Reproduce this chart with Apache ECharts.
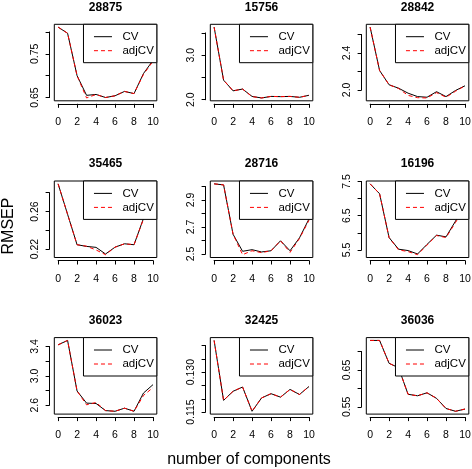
<!DOCTYPE html>
<html>
<head>
<meta charset="utf-8">
<script src="https://cdn.jsdelivr.net/npm/echarts@6/dist/echarts.min.js"></script>
<style>
  html, body { margin: 0; padding: 0; background: #fff; }
  #chart { width: 472px; height: 469px; }
</style>
</head>
<body>
<div id="chart"></div>
<script>
// ---- data ----
const components = [0, 1, 2, 3, 4, 5, 6, 7, 8, 9, 10];
const panelTitles = ['28875', '15756', '28842', '35465', '28716', '16196', '36023', '32425', '36036'];

const cv28875  = [0.811, 0.797, 0.700, 0.655, 0.657, 0.650, 0.654, 0.664, 0.659, 0.705, 0.735];
const adj28875 = [0.811, 0.797, 0.700, 0.649, 0.657, 0.650, 0.654, 0.664, 0.659, 0.703, 0.733];
const cv15756  = [3.63, 2.44, 2.20, 2.24, 2.075, 2.04, 2.075, 2.07, 2.075, 2.055, 2.10];
const adj15756 = [3.63, 2.44, 2.20, 2.24, 2.070, 2.04, 2.075, 2.07, 2.075, 2.055, 2.10];
const cv28842  = [2.68, 2.21, 2.055, 2.018, 1.964, 1.927, 1.920, 1.980, 1.927, 1.993, 2.044];
const adj28842 = [2.68, 2.21, 2.055, 2.015, 1.940, 1.915, 1.912, 1.970, 1.920, 1.985, 2.044];
const cv35465  = [0.2895, 0.257, 0.2246, 0.2228, 0.2218, 0.2147, 0.2220, 0.2256, 0.2246, 0.2526, 0.272];
const adj35465 = [0.2895, 0.257, 0.2246, 0.2230, 0.2190, 0.2140, 0.2220, 0.2256, 0.2246, 0.2520, 0.270];
const cv28716  = [3.02, 3.012, 2.646, 2.520, 2.532, 2.515, 2.524, 2.598, 2.524, 2.620, 2.760];
const adj28716 = [3.02, 3.012, 2.646, 2.495, 2.524, 2.510, 2.524, 2.598, 2.512, 2.615, 2.750];
const cv16196  = [7.43, 7.14, 5.86, 5.52, 5.48, 5.38, 5.66, 5.93, 5.88, 6.34, 6.80];
const adj16196 = [7.43, 7.14, 5.86, 5.50, 5.45, 5.36, 5.64, 5.92, 5.86, 6.30, 6.75];
const cv36023  = [3.423, 3.483, 2.793, 2.628, 2.623, 2.526, 2.517, 2.559, 2.517, 2.766, 2.880];
const adj36023 = [3.423, 3.483, 2.793, 2.605, 2.637, 2.526, 2.517, 2.559, 2.517, 2.733, 2.840];
const cv32425  = [0.1419, 0.1194, 0.1228, 0.1244, 0.1153, 0.1203, 0.1219, 0.1206, 0.1235, 0.1216, 0.1246];
const adj32425 = [0.1419, 0.1194, 0.1228, 0.1244, 0.1153, 0.1203, 0.1219, 0.1206, 0.1235, 0.1216, 0.1246];
const cv36036  = [0.730, 0.730, 0.668, 0.656, 0.584, 0.580, 0.588, 0.573, 0.5455, 0.538, 0.544];
const adj36036 = [0.730, 0.730, 0.668, 0.656, 0.584, 0.580, 0.588, 0.573, 0.5455, 0.538, 0.544];

const cvSeries  = [cv28875, cv15756, cv28842, cv35465, cv28716, cv16196, cv36023, cv32425, cv36036];
const adjSeries = [adj28875, adj15756, adj28842, adj35465, adj28716, adj16196, adj36023, adj32425, adj36036];

const yTickMin   = [0.65, 2.0, 2.0, 0.22, 2.5, 5.5, 2.6, 0.115, 0.55];
const yTickMax   = [0.80, 3.5, 2.6, 0.28, 3.0, 7.5, 3.4, 0.140, 0.70];
const yTickStep  = [0.05, 0.5, 0.2, 0.02, 0.1, 0.5, 0.2, 0.005, 0.05];
const yLabelEvery = [2, 2, 2, 2, 2, 2, 2, 3, 2];
const yDecimals  = [2, 1, 1, 2, 1, 1, 1, 3, 2];

// ---- layout ----
const FONT = '"Liberation Sans", Arial, Helvetica, sans-serif';
const colLeft = [54.3, 210.3, 366.3];
const rowTop = [24.3, 181.0, 337.6];
const BW = 102.5, BH = 76.5;

const grids = [], xAxes = [], yAxes = [], series = [], legends = [], titles = [];

for (let p = 0; p < 9; p++) {
  const r = Math.floor(p / 3), c = p % 3;
  const left = colLeft[c], top = rowTop[r];
  const all = cvSeries[p].concat(adjSeries[p]);
  const dmin = Math.min.apply(null, all), dmax = Math.max.apply(null, all);
  const pad = 0.04 * (dmax - dmin);
  const ylo = dmin - pad, yhi = dmax + pad;

  const gi = grids.length;
  grids.push({ left: left, top: top, width: BW, height: BH, show: true,
    borderColor: '#000', borderWidth: 1, backgroundColor: 'transparent', outerBoundsMode: 'none', containLabel: false });
  xAxes.push({ gridIndex: gi, type: 'value', min: -0.4, max: 10.4, show: false });
  yAxes.push({ gridIndex: gi, type: 'value', min: ylo, max: yhi, show: false });
  const ai = xAxes.length - 1;

  series.push({ name: 'CV', type: 'line', xAxisIndex: ai, yAxisIndex: ai,
    data: components.map((x, i) => [x, cvSeries[p][i]]), symbol: 'none', showSymbol: false,
    lineStyle: { color: '#000', width: 1, type: 'solid' }, itemStyle: { color: '#000' }, z: 2 });
  series.push({ name: 'adjCV', type: 'line', xAxisIndex: ai, yAxisIndex: ai,
    data: components.map((x, i) => [x, adjSeries[p][i]]), symbol: 'none', showSymbol: false,
    lineStyle: { color: '#ff0000', width: 1, type: [4, 3] }, itemStyle: { color: '#ff0000' }, z: 3 });

  const pxPerX = BW / 10.8;
  const aLeft = left + 0.4 * pxPerX;
  const aWidth = 10 * pxPerX;
  const pxPerY = BH / (yhi - ylo);
  const aTop = top + (yhi - yTickMax[p]) * pxPerY;
  const aHeight = (yTickMax[p] - yTickMin[p]) * pxPerY;
  const aBottomGap = (top + BH) - (aTop + aHeight);
  const gj = grids.length;
  grids.push({ left: aLeft, top: aTop, width: aWidth, height: aHeight, show: false, outerBoundsMode: 'none', containLabel: false });
  const tmin = yTickMin[p], step = yTickStep[p], every = yLabelEvery[p], dec = yDecimals[p];
  xAxes.push({ gridIndex: gj, type: 'value', min: 0, max: 10, interval: 2, position: 'bottom',
    offset: aBottomGap + 3,
    axisLine: { show: true, onZero: false, lineStyle: { color: '#000', width: 1 } },
    axisTick: { show: true, length: 4, lineStyle: { color: '#000', width: 1 } },
    axisLabel: { show: true, margin: 13, fontSize: 10.5, color: '#000', fontFamily: FONT,
      showMinLabel: true, showMaxLabel: true },
    splitLine: { show: false } });
  yAxes.push({ gridIndex: gj, type: 'value', min: yTickMin[p], max: yTickMax[p], interval: step, position: 'left',
    offset: (aLeft - left) + 4.7,
    axisLine: { show: true, onZero: false, lineStyle: { color: '#000', width: 1 } },
    axisTick: { show: true, length: 4, lineStyle: { color: '#000', width: 1 } },
    axisLabel: { show: true, rotate: 90, margin: 8.5, fontSize: 10.5, color: '#000', fontFamily: FONT,
      showMinLabel: true, showMaxLabel: true,
      formatter: function (v) {
        const k = Math.round((v - tmin) / step);
        return (k % every === 0) ? Number(v).toFixed(dec) : '';
      } },
    splitLine: { show: false } });

  legends.push({ data: ['CV', 'adjCV'], orient: 'vertical', right: 472 - (left + BW), top: top,
    backgroundColor: '#fff', borderColor: '#000', borderWidth: 1, borderRadius: 0,
    padding: [6.4, 3, 6, 10], itemGap: 2, itemWidth: 18, itemHeight: 12, selectedMode: false,
    itemStyle: { color: 'transparent', borderColor: 'transparent', borderWidth: 0, opacity: 0 },
    lineStyle: { width: 1 },
    textStyle: { fontSize: 11.5, color: '#000', fontFamily: FONT, padding: [0, 0, 0, 5.5] }, z: 10 });

  titles.push({ text: panelTitles[p], left: left + BW / 2, top: top - 23, textAlign: 'center', padding: 0,
    textStyle: { fontSize: 12, fontWeight: 'bold', color: '#000', fontFamily: FONT } });
}

const chart = echarts.init(document.getElementById('chart'), null, { renderer: 'canvas' });
chart.setOption({
  animation: false,
  backgroundColor: '#fff',
  title: titles,
  legend: legends,
  grid: grids,
  xAxis: xAxes,
  yAxis: yAxes,
  series: series,
  graphic: [
    { type: 'text', x: 9, y: 226, rotation: Math.PI / 2,
      style: { text: 'RMSEP', fontSize: 16, fontFamily: FONT, fill: '#000', align: 'center', verticalAlign: 'middle' } },
    { type: 'text', x: 249, y: 460,
      style: { text: 'number of components', fontSize: 16, fontFamily: FONT, fill: '#000', align: 'center', verticalAlign: 'middle' } }
  ]
});
</script>
</body>
</html>
